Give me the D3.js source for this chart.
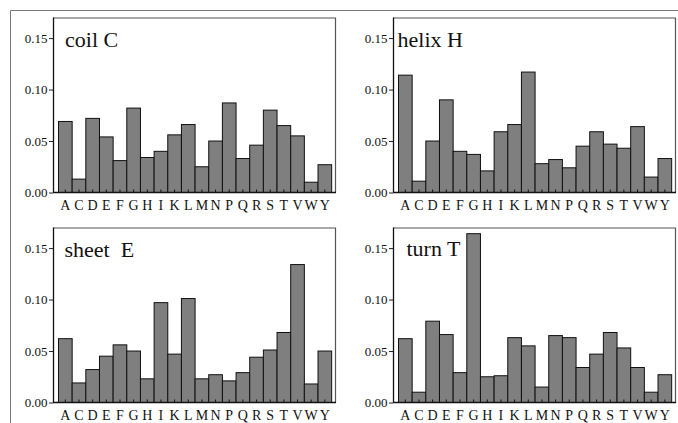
<!DOCTYPE html>
<html>
<head>
<meta charset="utf-8">
<script src="https://cdn.jsdelivr.net/npm/d3@7"></script>
<style>
  html, body { margin: 0; padding: 0; background: #fff; }
  svg { display: block; }
  svg text { font-family: "Liberation Serif", "DejaVu Serif", serif; fill: #111; }
</style>
</head>
<body>
<script>
// ---------- data ----------
const residues = ["A","C","D","E","F","G","H","I","K","L","M","N","P","Q","R","S","T","V","W","Y"];
const coilC  = [0.069,0.013,0.072,0.054,0.031,0.082,0.034,0.040,0.056,0.066,0.025,0.050,0.087,0.033,0.046,0.080,0.065,0.055,0.010,0.027];
const helixH = [0.114,0.011,0.050,0.090,0.040,0.037,0.021,0.059,0.066,0.117,0.028,0.032,0.024,0.045,0.059,0.047,0.043,0.064,0.015,0.033];
const sheetE = [0.062,0.019,0.032,0.045,0.056,0.050,0.023,0.097,0.047,0.101,0.023,0.027,0.021,0.029,0.044,0.051,0.068,0.134,0.018,0.050];
const turnT  = [0.062,0.010,0.079,0.066,0.029,0.164,0.025,0.026,0.063,0.055,0.015,0.065,0.063,0.034,0.047,0.068,0.053,0.034,0.010,0.027];
const panelTitles = ["coil C", "helix H", "sheet  E", "turn T"];
const yTickValues = [0, 0.05, 0.10, 0.15];
const yMax = 0.17;

// ---------- layout ----------
const W = 678, H = 423;
const FONT = '"Liberation Serif", "DejaVu Serif", serif';
const svg = d3.select("body").append("svg").attr("width", W).attr("height", H);

// outer frame (left + top)
svg.append("path")
  .attr("d", `M10.5,${H} V10.5 H${W}`)
  .attr("fill", "none").attr("stroke", "#777").attr("stroke-width", 1);

const panelSeries = [coilC, helixH, sheetE, turnT];
const origins = [[53, 17.5], [393, 17.5], [53, 227.5], [393, 227.5]];
const pw = 283, ph = 175;
const titleOffsets = [[12, 29.5], [4.5, 29.5], [11.5, 29.5], [13.5, 28.5]];

panelSeries.forEach((vals, i) => {
  const [ox, oy] = origins[i];
  const g = svg.append("g").attr("transform", `translate(${ox},${oy})`);

  const x = d3.scaleBand().domain(residues).range([0, pw])
    .paddingInner(0).paddingOuter(0.36).align(0.56);
  const y = d3.scaleLinear().domain([0, yMax]).range([ph, 0]);

  // frame top/right
  g.append("path")
    .attr("d", `M0,0.5 H${pw - 0.5} V${ph}`)
    .attr("fill", "none").attr("stroke", "#555").attr("stroke-width", 1.2);

  // bars
  g.selectAll("rect.bar").data(vals).join("rect")
    .attr("class", "bar")
    .attr("x", (d, j) => x(residues[j]))
    .attr("y", d => y(d))
    .attr("width", x.bandwidth())
    .attr("height", d => y(0) - y(d))
    .attr("fill", "#7f7f7f")
    .attr("stroke", "#111")
    .attr("stroke-width", 1);

  // y axis
  const ya = g.append("g").call(
    d3.axisLeft(y).tickValues(yTickValues).tickFormat(d3.format(".2f"))
      .tickSize(4).tickPadding(1.5));
  ya.attr("font-family", null).attr("font-size", null);
  ya.select(".domain").remove();
  ya.selectAll(".tick line").attr("stroke", "#222");
  ya.selectAll("text")
    .style("font-family", FONT).style("font-size", "13px").attr("fill", "#111");
  g.append("line").attr("x1", 0.5).attr("x2", 0.5).attr("y1", 0).attr("y2", ph)
    .attr("stroke", "#111").attr("stroke-width", 1.3);

  // x axis
  const xa = g.append("g").attr("transform", `translate(0,${ph})`).call(
    d3.axisBottom(x).tickSize(-3).tickPadding(7.5));
  xa.attr("font-family", null).attr("font-size", null);
  xa.select(".domain").remove();
  xa.selectAll(".tick line").attr("stroke", "#111").attr("stroke-width", 1);
  xa.selectAll("text")
    .style("font-family", FONT).style("font-size", "14px").attr("fill", "#111");
  g.append("line").attr("x1", 0).attr("x2", pw).attr("y1", ph).attr("y2", ph)
    .attr("stroke", "#111").attr("stroke-width", 1.5);

  // title
  g.append("text")
    .attr("x", titleOffsets[i][0]).attr("y", titleOffsets[i][1])
    .attr("xml:space", "preserve")
    .style("white-space", "pre")
    .style("font-family", FONT).style("font-size", "22px")
    .attr("fill", "#111")
    .text(panelTitles[i]);
});
</script>
</body>
</html>
